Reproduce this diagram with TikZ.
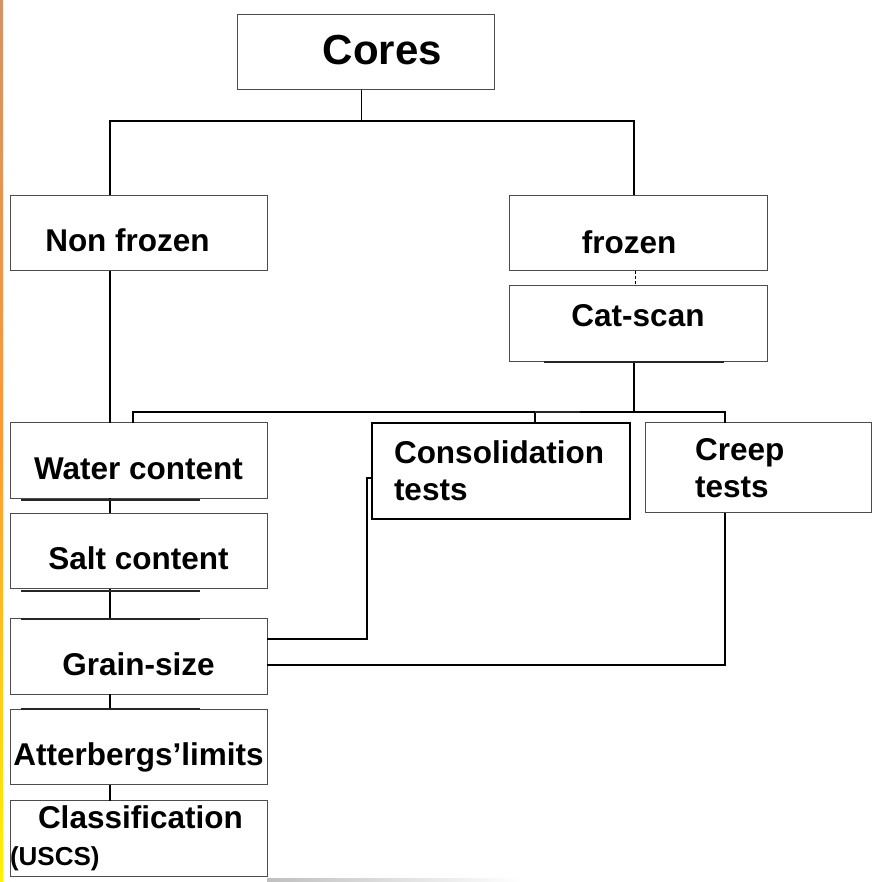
\documentclass[tikz,border=0pt]{standalone}
\usepackage{fontspec}
\setmainfont{Liberation Sans}
\usetikzlibrary{positioning}
\newcommand\lblfont{\fontsize{31.5}{37}\selectfont\bfseries}
\newcommand\coresfont{\fontsize{42}{50}\selectfont\bfseries}
\tikzset{
  box/.style = {
    rectangle,
    draw=black!70,
    line width=0.8pt,
    inner sep=0pt,
    outer sep=0pt,
    minimum width=257pt,
    minimum height=75.5pt,
    font=\lblfont
  },
  oneline/.style = {
    text height=37pt,
    text depth=0pt
  },
  link/.style = {
    draw=black,
    line width=1.6pt
  },
  shadowline/.style = {
    black!85,
    line width=2pt
  }
}
\begin{document}
\begin{tikzpicture}[x=1pt, y=1pt]
\useasboundingbox (0,0) rectangle (872,-882);

% left edge strip
\shade[top color=brown!70!pink, bottom color=yellow!90!orange, middle color=orange!80] (0,0) rectangle (3,-882);
\shade[left color=black!25, right color=white] (267,-878) rectangle (520,-882);

% Cores - root
\node[box, oneline, text height=26pt, font=\coresfont] (cores) at (365.5,-52) {\hspace*{34pt}Cores};

% two branches
\node[box, oneline] (nonfrozen) at (138.5,-233) {Non frozen\hspace{22pt}\mbox{}};
\node[box, oneline, text height=42pt, minimum width=258pt, right=242pt of nonfrozen] (frozen) {frozen\hspace{18pt}\mbox{}};
\node[box, oneline, text height=6pt, minimum width=258pt, below=15pt of frozen] (catscan) {Cat-scan};

% left column
\node[box, oneline, below=152pt of nonfrozen] (water) {Water content};
\node[box, oneline, below=15pt of water] (salt) {Salt content};
\node[box, oneline, below=30pt of salt] (grain) {Grain-size};
\node[box, oneline, below=15pt of grain] (atterberg) {Atterbergs’limits};
\node[box, align=left, text width=257pt, below=16pt of atterberg] (classif) {
  \hspace*{28pt}Classification\\
  {\fontsize{26}{32}\selectfont(USCS)}
};

% tests
\node[box, align=left, text width=214pt, inner xsep=22pt, minimum width=0pt, minimum height=96pt, draw=black, line width=1.5pt,
  right=105pt of water.north east, anchor=north west] (consol) {
  Consolidation\\
  tests
};
\node[box, align=left, text width=126pt, inner xsep=50pt, minimum width=0pt, minimum height=90pt,
  right=15pt of consol.north east, anchor=north west] (creep) {
  Creep\\
  tests
};

% Verbindungen
\draw[link] ([xshift=-4pt]cores.south) -- ++(0,-31pt) coordinate (split);
\draw[link] ([xshift=-28.5pt]nonfrozen.north) |- (split) -| ([xshift=-4pt]frozen.north);
\draw[link, line width=0.6pt, densely dashed] ([xshift=-3pt]frozen.south) -- ([xshift=-3pt]catscan.north);

\draw[link] ([xshift=-4pt]catscan.south) -- ++(0,-51pt) coordinate (fork);
\draw[link] ([xshift=-5.5pt]water.north) |- (fork) -| ([xshift=-33pt]creep.north);
\coordinate (cdrop) at ([xshift=34pt]consol.north);
\draw[link] (cdrop) -- (cdrop |- fork);

\foreach \a/\b in {nonfrozen/water, water/salt, salt/grain, grain/atterberg, atterberg/classif}
  \draw[link] ([xshift=-28.5pt]\a.south) -- ([xshift=-28.5pt]\b.north);

\draw[link] ([yshift=17.5pt]grain.east) -| ([xshift=-5pt,yshift=-7pt]consol.west) -- ([yshift=-7pt]consol.west);
\draw[link] ([yshift=-8.5pt]grain.east) -| ([xshift=-33pt]creep.south);

% dark edges
\foreach \n in {water, salt}
  \draw[shadowline] ([xshift=11pt,yshift=-2pt]\n.south west) -- ([xshift=-67pt,yshift=-2pt]\n.south east);
\foreach \n in {grain, atterberg}
  \draw[shadowline] ([xshift=11pt]\n.north west) -- ([xshift=-67pt]\n.north east);
\draw[shadowline] ([xshift=35pt,yshift=-1pt]catscan.south west) -- ([xshift=-43pt,yshift=-1pt]catscan.south east);
\draw[shadowline] (cdrop |- fork) -- ++(45pt,0);

\end{tikzpicture}
\end{document}
